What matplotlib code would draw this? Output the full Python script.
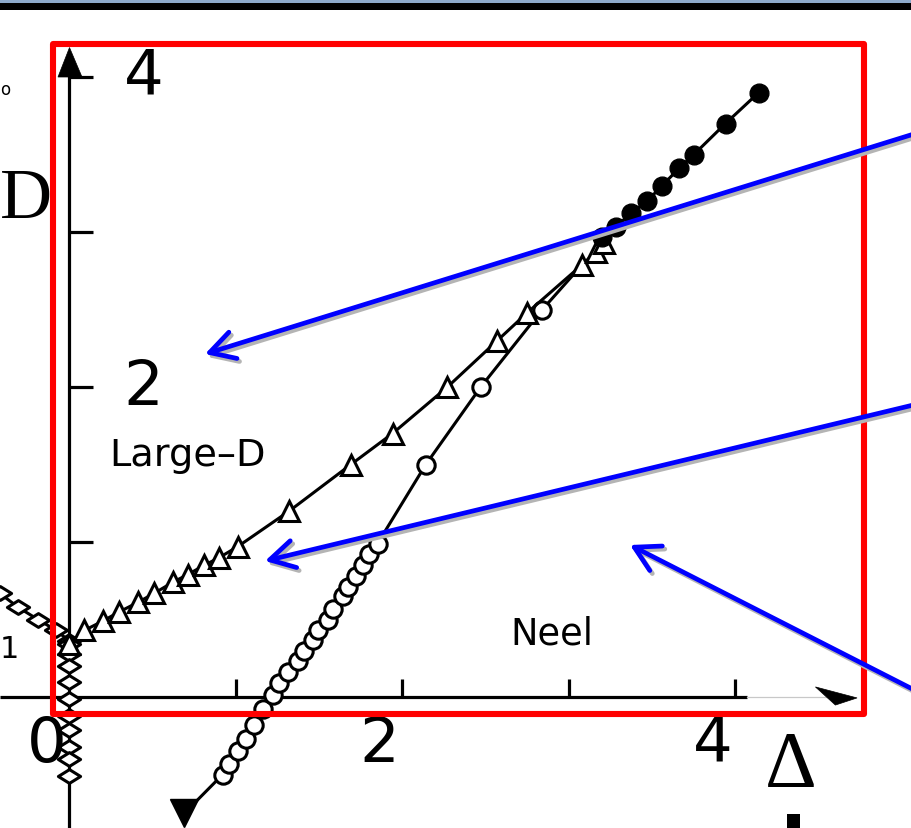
import matplotlib
matplotlib.use("Agg")
import matplotlib.pyplot as plt
from matplotlib import transforms as mtransforms
from matplotlib.patches import Rectangle, Polygon, FancyArrowPatch, ArrowStyle
from matplotlib.path import Path

W, H = 912, 829

# ---- phase boundaries in the (Delta, D) plane ----
# Large-D / intermediate boundary (open triangles)
tri_x = [0.00, 0.09, 0.20, 0.30, 0.41, 0.51, 0.62, 0.71, 0.81, 0.90, 1.01,
         1.32, 1.69, 1.94, 2.27, 2.57, 2.75, 3.08, 3.16, 3.21]
tri_y = [0.34, 0.43, 0.49, 0.55, 0.61, 0.67, 0.74, 0.79, 0.85, 0.90, 0.97,
         1.20, 1.50, 1.70, 2.00, 2.30, 2.48, 2.79, 2.87, 2.93]

# Neel boundary (open circles)
circ_x = [0.92, 0.96, 1.01, 1.06, 1.11, 1.16, 1.22, 1.26, 1.31, 1.37, 1.41, 1.46,
          1.49, 1.55, 1.58, 1.64, 1.67, 1.72, 1.76, 1.80, 1.85, 2.14, 2.47, 2.84]
circ_y = [-0.50, -0.43, -0.35, -0.27, -0.18, -0.08, 0.01, 0.09, 0.16, 0.23, 0.30, 0.37,
          0.43, 0.50, 0.57, 0.65, 0.71, 0.78, 0.85, 0.92, 0.99, 1.50, 2.00, 2.50]
circ_join_x = [2.84, 3.08]
circ_join_y = [2.50, 2.79]

# lower end of the Neel boundary (filled marker)
tail_x = [0.92, 0.69]
tail_y = [-0.50, -0.75]

# common boundary at large Delta (filled circles)
fill_x = [3.20, 3.28, 3.37, 3.47, 3.56, 3.66, 3.75, 3.94, 4.14]
fill_y = [2.97, 3.03, 3.12, 3.20, 3.30, 3.41, 3.50, 3.70, 3.90]

# boundaries near Delta = 0 (open diamonds)
dia_left_x = [-0.42, -0.31, -0.19, -0.08, 0.00]
dia_left_y = [0.67, 0.58, 0.50, 0.43, 0.36]
dia_col_x = [0.00, 0.00, 0.00, 0.00, 0.00, 0.00, 0.00, 0.00, 0.00, 0.00]
dia_col_y = [0.34, 0.28, 0.20, 0.10, -0.01, -0.12, -0.21, -0.32, -0.40, -0.51]

x_ticks = [1, 2, 3, 4]
y_ticks = [1, 2, 3, 4]
x_labels = {0: "0", 2: "2", 4: "4"}
y_labels = {2: "2", 4: "4"}

# ---- figure / axes layout ----
fig = plt.figure(figsize=(W / 100, H / 100), dpi=100)
fig.patch.set_facecolor("white")
ax = fig.add_axes([0, 0, 1, 1])
x0px, sx = 69.5, 166.5     # pixel of Delta=0, pixels per unit
y0px, sy = 698.0, 155.0    # pixel of D=0, pixels per unit
ax.set_xlim(-x0px / sx, (W - x0px) / sx)
ax.set_ylim((y0px - H) / sy, y0px / sy)
ax.axis("off")

# pixel coordinates, origin top-left
pix = mtransforms.Affine2D().scale(1 / W, -1 / H).translate(0, 1) + fig.transFigure

lw_ax = 2.3
xmin, xmax = ax.get_xlim()
ymin, ymax = ax.get_ylim()

# y axis with arrow
ax.plot([0, 0], [ymin, 4.05], color="black", lw=lw_ax, zorder=2, solid_capstyle="butt")
ax.add_patch(Polygon([(0.0, 4.19), (-0.069, 4.0), (0.075, 4.0)], closed=True,
                     facecolor="black", edgecolor="black", lw=0.5, zorder=2))
# x axis with arrow
ax.plot([xmin, 4.07], [0, 0], color="black", lw=lw_ax, zorder=2, solid_capstyle="butt")
ax.plot([4.07, 4.55], [0, 0], color="#c8c8c8", lw=0.9, zorder=2)
ax.add_patch(Polygon([(4.48, 0.065), (4.73, -0.006), (4.60, -0.052)], closed=True,
                     facecolor="black", edgecolor="black", lw=0.5, zorder=2))

for t in x_ticks:
    ax.plot([t, t], [0, 0.116], color="black", lw=lw_ax, zorder=2, solid_capstyle="butt")
for t in y_ticks:
    ax.plot([0, 0.144], [t, t], color="black", lw=lw_ax, zorder=2, solid_capstyle="butt")

tick_font = dict(family="DejaVu Sans", fontsize=45, color="black", zorder=6)
for v, s in x_labels.items():
    ax.annotate(s, xy=(v, 0), xytext=(-23, -47), textcoords="offset pixels",
                ha="center", va="center", **tick_font)
for v, s in y_labels.items():
    ax.annotate(s, xy=(0, v), xytext=(74, 0), textcoords="offset pixels",
                ha="center", va="center", **tick_font)

# ---- data series ----
lw_d = 2.2
mew = 2.2
ax.plot(dia_left_x, dia_left_y, color="black", lw=lw_d, zorder=3)
wide_diamond = Path([(-1, 0), (0, 0.62), (1, 0), (0, -0.62), (-1, 0)],
                    [Path.MOVETO, Path.LINETO, Path.LINETO, Path.LINETO, Path.CLOSEPOLY])
ax.plot(dia_left_x, dia_left_y, ls="none", marker=wide_diamond, ms=16, mfc="white",
        mec="black", mew=mew, zorder=4)
ax.plot(dia_col_x, dia_col_y, ls="none", marker=wide_diamond, ms=16, mfc="white",
        mec="black", mew=mew, zorder=4)

ax.plot(tail_x, tail_y, color="black", lw=lw_d, zorder=3)
ax.plot(tail_x[-1:], tail_y[-1:], ls="none", marker="v", ms=20, color="black", zorder=4)

ax.plot(circ_join_x, circ_join_y, color="black", lw=lw_d, zorder=3)
ax.plot(circ_x, circ_y, color="black", lw=lw_d, marker="o", ms=12.5, mfc="white",
        mec="black", mew=mew, zorder=4)

ax.plot(tri_x, tri_y, color="black", lw=lw_d, marker="^", ms=14, mfc="white",
        mec="black", mew=mew, zorder=5)

ax.plot(fill_x, fill_y, color="black", lw=lw_d, marker="o", ms=13.5, mfc="black",
        mec="black", zorder=5)

# phase labels
ax.text(188, 456, "Large\u2013D", transform=pix, ha="center", va="center",
        family="DejaVu Sans", fontsize=27.5, zorder=6)
ax.text(552, 634, "Neel", transform=pix, ha="center", va="center",
        family="DejaVu Sans", fontsize=26.5, zorder=6)

# ---- slide decorations ----
fig.patches.append(Rectangle((0, 0), W, 3.5, transform=pix, facecolor="#8eaacb",
                             edgecolor="none", zorder=1))
fig.patches.append(Rectangle((0, 3.5), W, 7.5, transform=pix, facecolor="black",
                             edgecolor="none", zorder=1))

ax.add_patch(Rectangle((53.5, 45), 811, 669.5, transform=pix, fill=False,
                       edgecolor="#ff0000", lw=4.4, joinstyle="round", zorder=7))

ax.text(0, 218, "D", transform=pix, ha="left", va="baseline",
        family="Liberation Serif", fontsize=52, zorder=6)
ax.text(791, 787, "\u0394", transform=pix, ha="center", va="baseline",
        family="Liberation Serif", fontsize=58, zorder=6)
ax.text(0, 650, "1", transform=pix, ha="left", va="center",
        family="DejaVu Sans", fontsize=22, zorder=6)
ax.text(0, 90, "o", transform=pix, ha="left", va="center",
        family="DejaVu Sans", fontsize=12, zorder=6)
ax.add_patch(Rectangle((787, 815), 13, 14, transform=pix, facecolor="black",
                       edgecolor="none", zorder=6))

# blue pointer arrows (with a soft grey drop shadow)
arrows = [((930, 130), (205, 355)),
          ((930, 402), (265, 562)),
          ((930, 699), (630, 546))]
head = ArrowStyle("->", head_length=0.8, head_width=0.45)
for (sx0, sy0), (tx, ty) in arrows:
    for dx, dy, col, z in [(2.5, 3.0, "#b4b4b4", 8), (0, 0, "#0000ff", 9)]:
        a = FancyArrowPatch((sx0 + dx, sy0 + dy), (tx + dx, ty + dy), transform=pix,
                            arrowstyle=head, mutation_scale=22, color=col, lw=3.4,
                            shrinkA=0, shrinkB=0, zorder=z, capstyle="round",
                            joinstyle="round")
        ax.add_patch(a)

fig.savefig("out.png", dpi=100, facecolor="white")
